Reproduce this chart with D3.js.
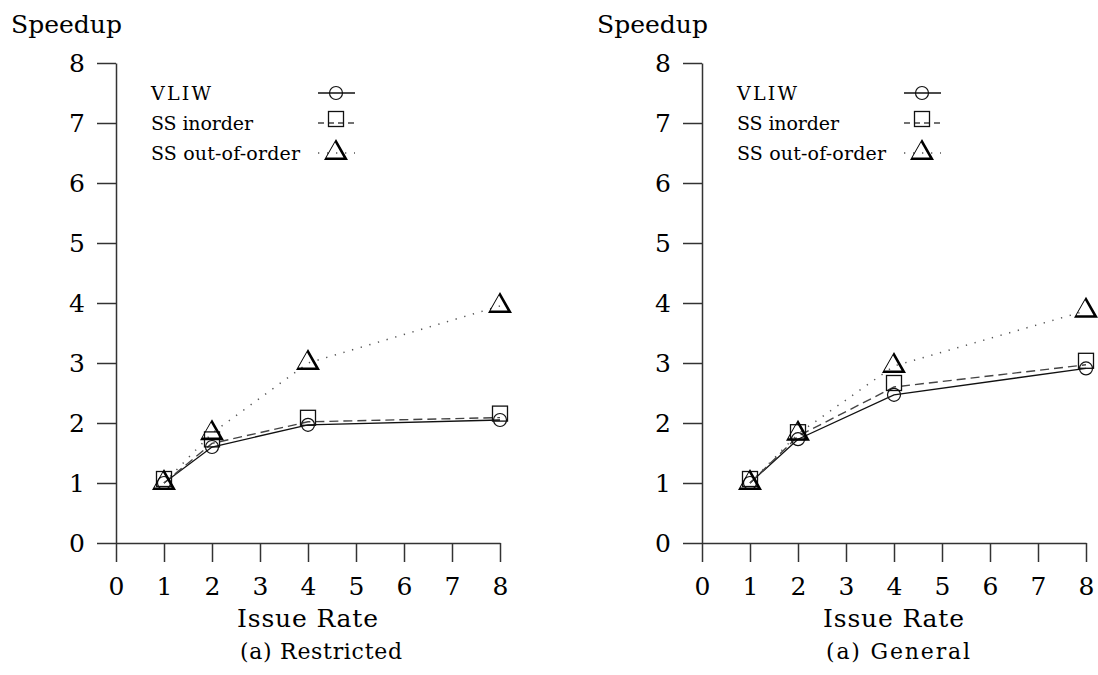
<!DOCTYPE html>
<html>
<head>
<meta charset="utf-8">
<script src="https://cdn.jsdelivr.net/npm/d3@7"></script>
<style>
  html, body { margin: 0; padding: 0; background: #fff; }
  svg { display: block; }
  svg text { font-family: "DejaVu Serif", "Liberation Serif", serif !important; }
</style>
</head>
<body>
<svg id="chart" width="1098" height="675"></svg>
<script>
// ---------------- data ----------------
const issueRates = [1, 2, 4, 8];
const xTicks = [0, 1, 2, 3, 4, 5, 6, 7, 8];
const yTicks = [0, 1, 2, 3, 4, 5, 6, 7, 8];
const seriesNames = ["VLIW", "SS inorder", "SS out-of-order"];

const restrictedVLIW    = [1.00, 1.60, 1.97, 2.05];
const restrictedInorder = [1.00, 1.66, 2.02, 2.09];
const restrictedOOO     = [1.00, 1.83, 3.00, 3.95];

const generalVLIW    = [1.00, 1.73, 2.47, 2.91];
const generalInorder = [1.00, 1.78, 2.60, 2.97];
const generalOOO     = [1.00, 1.82, 2.95, 3.87];

const panelTitles = ["(a) Restricted", "(a) General"];
const yLabel = "Speedup";
const xLabel = "Issue Rate";

// ---------------- drawing ----------------
const svg = d3.select("#chart");
svg.append("rect").attr("width", 1098).attr("height", 675).attr("fill", "#fff");

const AXIS = "#333";

// triangle glyph (TeX-like Delta: thin left edge, thick right edge & base)
function deltaPath(cx, cy) {
  const A = [cx, cy - 14], L = [cx - 12, cy + 7], R = [cx + 12, cy + 7];
  const pts = [A, L, R];
  const th = [0.9, 2.6, 2.6]; // A->L, L->R, R->A
  const c = [(A[0] + L[0] + R[0]) / 3, (A[1] + L[1] + R[1]) / 3];
  const lines = pts.map((P, i) => {
    const Q = pts[(i + 1) % 3];
    const dx = Q[0] - P[0], dy = Q[1] - P[1];
    const len = Math.hypot(dx, dy);
    let n = [-dy / len, dx / len];
    if (n[0] * (c[0] - P[0]) + n[1] * (c[1] - P[1]) < 0) n = [-n[0], -n[1]];
    return { n, d: n[0] * P[0] + n[1] * P[1] + th[i] };
  });
  const inter = (l1, l2) => {
    const det = l1.n[0] * l2.n[1] - l1.n[1] * l2.n[0];
    return [(l1.d * l2.n[1] - l2.d * l1.n[1]) / det, (l1.n[0] * l2.d - l2.n[0] * l1.d) / det];
  };
  const iA = inter(lines[2], lines[0]);
  const iL = inter(lines[0], lines[1]);
  const iR = inter(lines[1], lines[2]);
  return `M${A}L${L}L${R}Z M${iA}L${iR}L${iL}Z`;
}

const styles = [
  { dash: null, width: 1.3, color: "#111" },
  { dash: "9 5", width: 1.4, color: "#444" },
  { dash: "1.3 7.7", width: 1.5, color: "#555" }
];

function drawMarker(g, kind, cx, cy) {
  if (kind === 0) {
    g.append("circle").attr("cx", cx).attr("cy", cy).attr("r", 6.5)
      .attr("fill", "none").attr("stroke", "#111").attr("stroke-width", 1.2);
  } else if (kind === 1) {
    g.append("rect").attr("x", cx - 7.5).attr("y", cy - 4 - 7.5).attr("width", 15).attr("height", 15)
      .attr("fill", "none").attr("stroke", "#111").attr("stroke-width", 1.3);
  } else {
    g.append("path").attr("d", deltaPath(cx, cy)).attr("fill", "#000").attr("fill-rule", "evenodd");
  }
}

function addText(g, x, y, size, len, str) {
  return g.append("text").attr("x", x).attr("y", y)
    .attr("font-size", size)
    .attr("textLength", len).attr("lengthAdjust", "spacing")
    .attr("fill", "#000").text(str);
}

function drawPanel(offset, seriesList, title) {
  const g = svg.append("g");
  const x = d3.scaleLinear().domain([0, 8]).range([116 + offset, 500 + offset]);
  const y = d3.scaleLinear().domain([0, 8]).range([543, 63]);

  // axes
  const xa = g.append("g").attr("transform", "translate(0,543)")
    .call(d3.axisBottom(x).tickValues(xTicks).tickSize(19).tickSizeOuter(0).tickFormat(d3.format("d")));
  const ya = g.append("g").attr("transform", `translate(${116 + offset},0)`)
    .call(d3.axisLeft(y).tickValues(yTicks).tickSize(19).tickSizeOuter(0).tickFormat(d3.format("d")));
  [xa, ya].forEach(a => {
    a.attr("font-size", 25);
    a.select(".domain").attr("stroke", AXIS).attr("stroke-width", 1.5);
    a.selectAll(".tick line").attr("stroke", AXIS).attr("stroke-width", 1.5);
    a.selectAll(".tick text").attr("fill", "#000");
  });
  xa.selectAll(".tick text").attr("y", 52).attr("dy", 0);
  ya.selectAll(".tick text").attr("x", -31).attr("dy", 0).attr("y", 8.5);

  // series lines
  const line = d3.line().x((d, i) => x(issueRates[i])).y(d => y(d));
  seriesList.forEach((vals, k) => {
    const p = g.append("path").datum(vals).attr("d", line)
      .attr("fill", "none").attr("stroke", styles[k].color).attr("stroke-width", styles[k].width);
    if (styles[k].dash) p.attr("stroke-dasharray", styles[k].dash);
  });
  // markers
  seriesList.forEach((vals, k) => {
    vals.forEach((v, i) => drawMarker(g, k, x(issueRates[i]), y(v)));
  });

  // legend
  const legY = [93, 123, 153];
  const legTextLen = [60, 102, 149];
  seriesNames.forEach((name, k) => {
    addText(g, 151 + offset, legY[k] + 7, 19, legTextLen[k], name);
    const ln = g.append("line").attr("x1", 318 + offset).attr("x2", 355 + offset)
      .attr("y1", legY[k]).attr("y2", legY[k])
      .attr("stroke", styles[k].color).attr("stroke-width", styles[k].width);
    if (k === 1) ln.attr("stroke-dasharray", "6 4");
    if (k === 2) ln.attr("stroke-dasharray", "1.3 7.7");
    drawMarker(g, k, 336 + offset, legY[k]);
  });

  // labels
  addText(g, 11 + offset, 33, 25, 111, yLabel);
  addText(g, 237 + offset, 627, 25, 141, xLabel);
  const tw = title.length > 12 ? 162 : 144;
  const tx = title.length > 12 ? 240 : 240;
  addText(g, tx + offset, 659, 22, tw, title);
}

drawPanel(0, [restrictedVLIW, restrictedInorder, restrictedOOO], panelTitles[0]);
drawPanel(586, [generalVLIW, generalInorder, generalOOO], panelTitles[1]);
</script>
</body>
</html>
